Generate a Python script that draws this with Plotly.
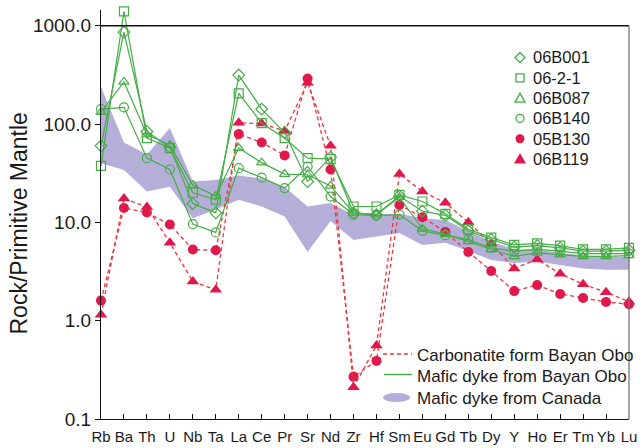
import plotly.graph_objects as go

elements = ['Rb', 'Ba', 'Th', 'U', 'Nb', 'Ta', 'La', 'Ce', 'Pr', 'Sr', 'Nd', 'Zr',
            'Hf', 'Sm', 'Eu', 'Gd', 'Tb', 'Dy', 'Y', 'Ho', 'Er', 'Tm', 'Yb', 'Lu']

s06B001 = [60, 860, 84, 58, 15.5, 12.5, 315, 142, 82, 26, 46, 12.5,
           12, 18.5, 13, 11.8, 8.2, 6.7, 5.6, 5.8, 5.5, 5.1, 5.1, 5.2]
s06_2_1 = [37.5, 1400, 72, 57, 20, 17, 205, 102, 72, 45, 44, 14.5,
           14.5, 19, 16.3, 12.2, 8.5, 7.0, 5.9, 6.1, 5.8, 5.3, 5.3, 5.5]
s06B087 = [132, 268, 78, 61, 24, 18.5, 57, 40.5, 31, 30.5, 23.5, 12.5,
           12, 18, 8.6, 7.6, 6.4, 5.3, 4.5, 4.9, 4.7, 4.5, 4.5, 4.6]
s06B140 = [142, 148, 45, 34.5, 9.6, 7.9, 35.6, 28.5, 22.3, 37, 18.3, 12,
           11.7, 12, 8.2, 7.4, 6.7, 5.5, 5.1, 5.3, 5.1, 4.8, 4.8, 4.8]
s05B130 = [1.6, 14, 12.6, 9.5, 5.3, 5.2, 79, 65, 48, 290, 34.5, 0.27,
           0.39, 15, 11.3, 8.0, 5.0, 3.2, 2.0, 2.3, 1.87, 1.7, 1.55, 1.47]
s06B119 = [1.15, 17.5, 14.3, 6.2, 2.5, 2.06, 103, 101, 85, 263, 60, 0.21,
           0.56, 31, 20.6, 15.8, 10, 6.1, 3.4, 4.2, 3.0, 2.35, 1.95, 1.56]

canada_upper = [240, 65, 49, 91, 26, 27, 30, 28, 23, 14.5, 15.7, 11.9,
                12, 12.2, 11, 10.6, 8.1, 6.4, 5.3, 5.3, 4.9, 4.6, 4.5, 4.5]
canada_lower = [40, 34, 20.6, 23, 11, 13.5, 17, 14.5, 11.5, 5, 10.3, 6.6,
                7.2, 7.8, 5.9, 6.2, 5.1, 4.15, 3.85, 4.0, 3.7, 3.4, 3.3, 3.3]

ytick_vals = [0.1, 1, 10, 100, 1000]
ytick_text = ['0.1', '1.0', '10.0', '100.0', '1000.0']

GREEN = '#45AD45'
RED = '#E0184C'
RED_LINE = '#E8383D'
PURPLE = '#B5AED8'
FONT = 'Liberation Sans, Arial, sans-serif'
TXT = '#1a1a1a'

fig = go.Figure()

# Canada mafic dyke field
fig.add_trace(go.Scatter(
    x=elements + elements[::-1],
    y=canada_upper + canada_lower[::-1],
    fill='toself', fillcolor=PURPLE, mode='lines',
    line=dict(width=0, color=PURPLE), hoverinfo='skip', showlegend=False))

green_series = [
    ('06B001', s06B001, 'diamond-open'),
    ('06-2-1', s06_2_1, 'square-open'),
    ('06B087', s06B087, 'triangle-up-open'),
    ('06B140', s06B140, 'circle-open'),
]
red_series = [
    ('05B130', s05B130, 'circle'),
    ('06B119', s06B119, 'triangle-up'),
]

for name, vals, sym in red_series:
    fig.add_trace(go.Scatter(
        x=elements, y=vals, mode='lines+markers', name=name,
        line=dict(color=RED_LINE, width=1.3, dash='4px,3px'),
        marker=dict(symbol=sym, size=10 if sym == 'circle' else 11, color=RED,
                    line=dict(width=0)),
        cliponaxis=False, showlegend=False))

for name, vals, sym in green_series:
    fig.add_trace(go.Scatter(
        x=elements, y=vals, mode='lines+markers', name=name,
        line=dict(color=GREEN, width=1.2),
        marker=dict(symbol=sym, size=9, color=GREEN, line=dict(width=1.2, color=GREEN)),
        cliponaxis=False, showlegend=False))

# Frame: top and right borders (plot extends slightly above 1000 for the Ba peak)
shapes = [
    dict(type='line', xref='paper', yref='y', x0=0, x1=1, y0=1000, y1=1000,
         line=dict(color='#111111', width=1.3)),
    dict(type='line', xref='paper', yref='y', x0=1, x1=1, y0=0.1, y1=1000,
         line=dict(color='#777777', width=1.3)),
]

def px_x(px):
    return (px - 101) / 528.0

def px_y(py):
    return (419 - py) / 409.0

annotations = []

# sample legend (top right), drawn as glyph shapes + text
def glyph(kind, cx, cy, color, filled):
    base = dict(xref='paper', yref='paper', xsizemode='pixel', ysizemode='pixel',
                xanchor=px_x(cx), yanchor=px_y(cy),
                line=dict(color=color, width=0 if filled else 1.3),
                fillcolor=color if filled else 'rgba(0,0,0,0)', layer='above')
    if kind == 'circle':
        r = 4.5 if filled else 4
        base.update(type='circle', x0=-r, x1=r, y0=-r, y1=r)
    elif kind == 'square':
        base.update(type='rect', x0=-4, x1=4, y0=-4, y1=4)
    elif kind == 'diamond':
        base.update(type='path', path='M0,5 L5,0 L0,-5 L-5,0 Z')
    else:
        if filled:
            base.update(type='path', path='M0,6 L6,-4.5 L-6,-4.5 Z')
        else:
            base.update(type='path', path='M0,5 L5,-4 L-5,-4 Z')
    return base

legend1 = [('06B001', 'diamond', GREEN, False), ('06-2-1', 'square', GREEN, False),
           ('06B087', 'triangle', GREEN, False), ('06B140', 'circle', GREEN, False),
           ('05B130', 'circle', RED, True), ('06B119', 'triangle', RED, True)]
for i, (txt, kind, col, filled) in enumerate(legend1):
    cy = 57.5 + 20.3 * i
    shapes.append(glyph(kind, 520, cy, col, filled))
    annotations.append(dict(text=txt, xref='paper', yref='paper', x=px_x(531), y=px_y(cy),
                            xanchor='left', yanchor='middle', showarrow=False,
                            font=dict(family=FONT, size=16.5, color=TXT)))

# line-type legend (bottom right)
shapes += [
    dict(type='line', xref='paper', yref='paper', x0=px_x(383), x1=px_x(412),
         y0=px_y(354), y1=px_y(354), line=dict(color=RED_LINE, width=1.3, dash='4px,3px')),
    dict(type='line', xref='paper', yref='paper', x0=px_x(384), x1=px_x(412),
         y0=px_y(374.5), y1=px_y(374.5), line=dict(color=GREEN, width=1.5)),
    dict(type='circle', xref='paper', yref='paper', x0=px_x(383), x1=px_x(410),
         y0=px_y(402), y1=px_y(393), fillcolor=PURPLE, line=dict(width=0)),
]
legend2 = [('Carbonatite form Bayan Obo', 355), ('Mafic dyke from Bayan Obo', 376),
           ('Mafic dyke from Canada', 398)]
for txt, py in legend2:
    annotations.append(dict(text=txt, xref='paper', yref='paper', x=px_x(415), y=px_y(py),
                            xanchor='left', yanchor='middle', showarrow=False,
                            font=dict(family=FONT, size=17, color=TXT)))
annotations.append(dict(text='Rock/Primitive Mantle', xref='paper', yref='paper',
                        x=px_x(19), y=px_y(223.5), textangle=-90, showarrow=False,
                        xanchor='center', yanchor='middle',
                        font=dict(family=FONT, size=23, color=TXT)))

fig.update_layout(
    width=642, height=448,
    margin=dict(l=101, r=13, t=10, b=29),
    paper_bgcolor='white', plot_bgcolor='white',
    font=dict(family=FONT, color=TXT),
    showlegend=False,
    shapes=shapes, annotations=annotations,
    xaxis=dict(type='category', categoryorder='array', categoryarray=elements,
               range=[0, 23], showgrid=False, zeroline=False, automargin=False,
               showline=True, linecolor='#111111', linewidth=1.3,
               ticks='inside', ticklen=5, tickcolor='#111111', tickwidth=1.2,
               ticklabelstandoff=4,
               tickfont=dict(family=FONT, size=15, color=TXT)),
    yaxis=dict(type='log', range=[-1, 3.16], showgrid=False, zeroline=False,
               automargin=False,
               showline=True, linecolor='#111111', linewidth=1.3,
               tickvals=ytick_vals, ticktext=ytick_text,
               ticks='outside', ticklen=5, tickcolor='#111111', tickwidth=1.2,
               tickfont=dict(family=FONT, size=19, color=TXT)),
)

fig.write_html('out.html')
